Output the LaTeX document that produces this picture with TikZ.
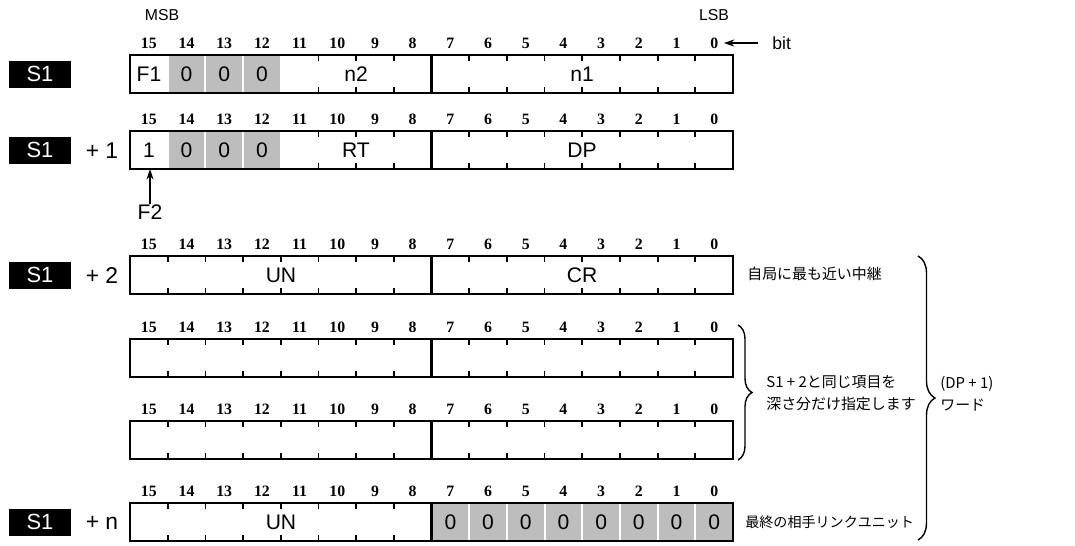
\documentclass[tikz,border=0pt]{standalone}
\usepackage{fontspec}
\setmainfont{Liberation Sans}
\newfontfamily\numfont{Liberation Serif}
\newfontfamily\jpfont{Noto Sans CJK JP}
\usetikzlibrary{arrows.meta,decorations.pathreplacing}

\tikzset{
  regframe/.style={line width=1.6pt},
  bittick/.style={line width=1pt},
  bitnum/.style={font=\numfont\bfseries\fontsize{9}{9}\selectfont, inner sep=0pt},
  field/.style={font=\fontsize{12}{12}\selectfont, inner sep=0pt},
  dotshade/.style={fill=black!26},
  srcbox/.style={fill=black, text=white, font=\fontsize{12.5}{12.5}\selectfont,
    minimum width=1.26cm, minimum height=0.54cm, inner sep=0pt},
  plus/.style={font=\fontsize{13}{13}\selectfont, inner sep=0pt},
  small/.style={font=\fontsize{9}{9}\selectfont, inner sep=0pt},
  note/.style={font=\jpfont\fontsize{8.5}{12.5}\selectfont, anchor=west, align=left, inner sep=0pt},
  edgebrace/.style={decorate, decoration={brace, amplitude=#1}, line width=0.8pt},
}

% one register word: top edge, tick boundaries, name
\newcommand\regword[3]{%
  \foreach \b in {0,...,15}
    \node[bitnum] (#3-b\b) at ({130+(15.5-\b)*37.69}, #1-12) {\b};
  \foreach \i in {#2} {
    \draw[bittick] ({130+\i*37.69}, #1) -- ++(0,6);
    \draw[bittick] ({130+\i*37.69}, #1+38) -- ++(0,-6);
  }
  \draw[regframe] (130,#1) rectangle (733,#1+38);
  \draw[regframe] (431.5,#1) -- (431.5,#1+38);
}
% shaded cell holding a 0: top edge, cell index from the left
\newcommand\zerocell[2]{%
  \fill[dotshade] ({130+#2*37.69+1}, #1+1) rectangle ({130+(#2+1)*37.69-1}, #1+37);
  \node[field] at ({130+(#2+0.5)*37.69}, #1+19) {0};
}

\begin{document}
\begin{tikzpicture}[x=0.02cm, y=-0.02cm]
\useasboundingbox (0,0) rectangle (1075,545);

\node[small] (msb) at (162,15) {MSB};
\node[small] (lsb) at (714,15) {LSB};

% S1
\foreach \j in {1,2,3} {\zerocell{55}{\j}}
\regword{55}{5,6,7,9,10,11,12,13,14,15}{wa}
\node[srcbox] (sa) at (40,74) {S1};
\node[field] (f1) at (149,74) {F1};
\node[field] (n2) at (356,74) {n2};
\node[field] (n1) at (582,74) {n1};
\node[small, anchor=west, font=\fontsize{10}{10}\selectfont] (bit) at (772,43) {bit};
\draw[-{Stealth[length=6pt,width=4pt]}, line width=0.8pt, shorten <=8pt, shorten >=3pt]
  (bit.west) -- (wa-b0.east);

% S1 + 1
\foreach \j in {1,2,3} {\zerocell{131}{\j}}
\regword{131}{5,6,7,9,10,11,12,13,14,15}{wb}
\node[srcbox] (sb) at (40,150) {S1};
\node[plus] (pb) at (102,151) {+ 1};
\node[field] (flag) at (149,150) {1};
\node[field] (rt) at (356,150) {RT};
\node[field] (dp) at (582,150) {DP};
\node[field] (f2) at (150,212) {F2};
\coordinate (f2tip) at (150,169);
\draw[-{Stealth[length=6pt,width=4pt]}, line width=0.8pt] (f2.north) -- (f2tip);

% S1 + 2
\regword{256}{1,2,3,4,5,6,7,9,10,11,12,13,14,15}{wc}
\node[srcbox] (sc) at (40,275) {S1};
\node[plus] (pc) at (102,276) {+ 2};
\node[field] (unc) at (281,275) {UN};
\node[field] (cr) at (582,275) {CR};
\node[note] (relay) at (747,274) {自局に最も近い中継};

% repeated words
\regword{339}{1,2,3,4,5,6,7,9,10,11,12,13,14,15}{wd}
\regword{421}{1,2,3,4,5,6,7,9,10,11,12,13,14,15}{we}
\coordinate (sbtop) at (738,325);
\coordinate (sbbot) at (738,460);
\draw[edgebrace=0.28cm] (sbtop) -- (sbbot);
\node[note] (same) at (766,393) {S1 + 2と同じ項目を\\深さ分だけ指定します};

% S1 + n
\foreach \j in {8,...,15} {\zerocell{503}{\j}}
\regword{503}{1,2,3,4,5,6,7}{wf}
\node[srcbox] (sf) at (40,522) {S1};
\node[plus] (pf) at (102,523) {+ n};
\node[field] (unf) at (281,522) {UN};
\node[note, font=\jpfont\fontsize{8}{8}\selectfont] (last) at (745,522) {最終の相手リンクユニット};

% total words
\coordinate (bbtop) at (918,256);
\coordinate (bbbot) at (918,540);
\draw[edgebrace=0.34cm] (bbtop) -- (bbbot);
\node[note] (words) at (940,394) {(DP + 1)\\ワード};
\end{tikzpicture}
\end{document}
